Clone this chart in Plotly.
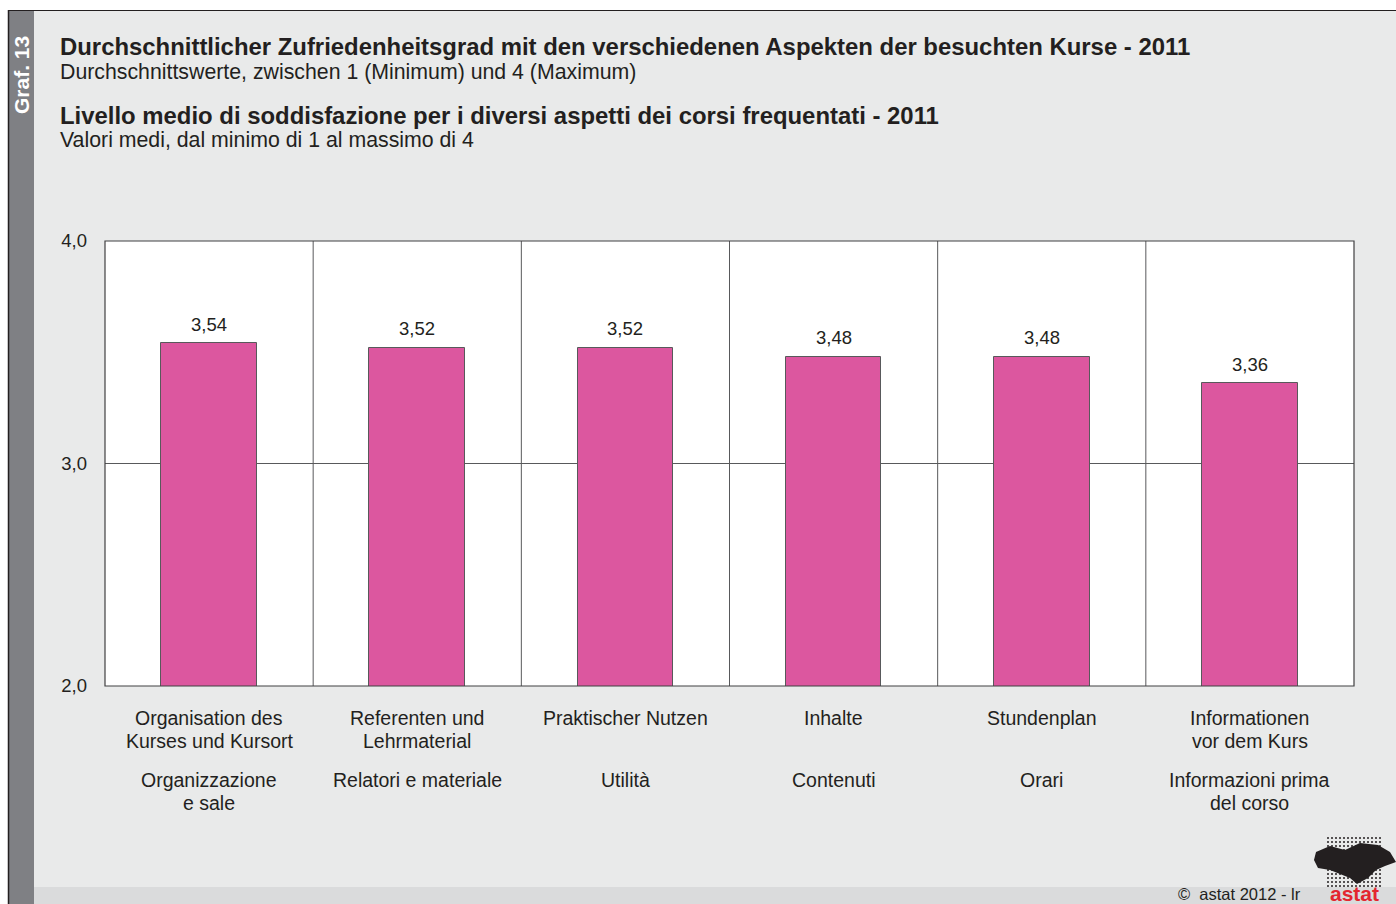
import plotly.graph_objects as go

categories_de = ["Organisation des<br>Kurses und Kursort", "Referenten und<br>Lehrmaterial",
                 "Praktischer Nutzen", "Inhalte", "Stundenplan", "Informationen<br>vor dem Kurs"]
categories_it = ["Organizzazione<br>e sale", "Relatori e materiale", "Utilità", "Contenuti",
                 "Orari", "Informazioni prima<br>del corso"]
values = [3.54, 3.52, 3.52, 3.48, 3.48, 3.36]
value_labels = ["3,54", "3,52", "3,52", "3,48", "3,48", "3,36"]
y_ticks = [2, 3, 4]
y_tick_labels = ["2,0", "3,0", "4,0"]

W, H = 1396, 904
L, R, T, B = 105, 1354, 241, 686
FONT = "Liberation Sans, Arial, Helvetica, sans-serif"
INK = "#231f20"

def px(x):
    return (x - L) / (R - L)

def py(y):
    return (B - y) / (B - T)

xs = list(range(len(values)))

fig = go.Figure()
fig.add_trace(go.Bar(
    x=xs, y=values, width=0.46,
    marker=dict(color="#dc579f", line=dict(color="#58595b", width=1)),
    hoverinfo="skip",
))

shapes = []
shapes.append(dict(type="rect", xref="paper", yref="paper", x0=px(8), x1=px(W + 5), y0=py(H + 5), y1=py(10),
                   fillcolor="#e9eaea", line=dict(width=0), layer="below"))
shapes.append(dict(type="rect", xref="paper", yref="paper", x0=px(34), x1=px(W + 5), y0=py(H + 5), y1=py(887),
                   fillcolor="#dadbdc", line=dict(width=0), layer="below"))
shapes.append(dict(type="rect", xref="paper", yref="paper", x0=px(9), x1=px(34), y0=py(H + 5), y1=py(10),
                   fillcolor="#7f8084", line=dict(width=0), layer="below"))
shapes.append(dict(type="line", xref="paper", yref="paper", x0=px(8.5), x1=px(8.5), y0=py(H + 5), y1=py(10),
                   line=dict(color=INK, width=1.5), layer="below"))
shapes.append(dict(type="line", xref="paper", yref="paper", x0=px(8), x1=px(W + 5), y0=py(10.5), y1=py(10.5),
                   line=dict(color=INK, width=1.2), layer="below"))
shapes.append(dict(type="rect", xref="paper", yref="paper", x0=0, x1=1, y0=0, y1=1,
                   fillcolor="white", line=dict(width=0), layer="below"))
for i in range(len(values) - 1):
    shapes.append(dict(type="line", xref="x", yref="paper", x0=i + 0.5, x1=i + 0.5, y0=0, y1=1,
                       line=dict(color="#58595b", width=1), layer="below"))
shapes.append(dict(type="rect", xref="paper", yref="paper", x0=0, x1=1, y0=0, y1=1,
                   line=dict(color="#414042", width=1.2), layer="above"))

# decorative logo: dotted square with dark region silhouette
for gx in range(1328, 1382, 4):
    for gy in range(838, 888, 4):
        shapes.append(dict(type="circle", xref="paper", yref="paper",
                           x0=px(gx - 1), x1=px(gx + 1), y0=py(gy + 1), y1=py(gy - 1),
                           fillcolor=INK, line=dict(width=0), layer="above"))
blob = [(1316, 852), (1330, 846), (1345, 850), (1360, 843), (1378, 845), (1390, 852), (1396, 862),
        (1385, 866), (1376, 870), (1368, 878), (1357, 884), (1350, 878), (1340, 874), (1330, 870),
        (1318, 868), (1314, 860)]
path = "M " + " L ".join(f"{px(a):.5f},{py(b):.5f}" for a, b in blob) + " Z"
shapes.append(dict(type="path", xref="paper", yref="paper", path=path, fillcolor=INK,
                   line=dict(width=0), layer="above"))

annotations = []
for i in xs:
    annotations.append(dict(x=i, xref="x", y=values[i], yref="y", text=value_labels[i], showarrow=False,
                            yanchor="middle", xanchor="center", yshift=19,
                            font=dict(size=18.5, color=INK, family=FONT)))
    for k, line in enumerate(categories_de[i].split("<br>")):
        annotations.append(dict(x=i, xref="x", y=py(718 + 23 * k), yref="paper", text=line,
                                showarrow=False, yanchor="middle", xanchor="center",
                                font=dict(size=19.5, color=INK, family=FONT)))
    for k, line in enumerate(categories_it[i].split("<br>")):
        annotations.append(dict(x=i, xref="x", y=py(780 + 22.5 * k), yref="paper", text=line,
                                showarrow=False, yanchor="middle", xanchor="center",
                                font=dict(size=19.5, color=INK, family=FONT)))

annotations += [
    dict(x=px(58), y=py(46), xref="paper", yref="paper", xanchor="left", yanchor="middle", showarrow=False,
         text="<b>Durchschnittlicher Zufriedenheitsgrad mit den verschiedenen Aspekten der besuchten Kurse - 2011</b>",
         font=dict(size=23.9, color=INK, family=FONT)),
    dict(x=px(58), y=py(72), xref="paper", yref="paper", xanchor="left", yanchor="middle", showarrow=False,
         text="Durchschnittswerte, zwischen 1 (Minimum) und 4 (Maximum)",
         font=dict(size=21.3, color=INK, family=FONT)),
    dict(x=px(58), y=py(115), xref="paper", yref="paper", xanchor="left", yanchor="middle", showarrow=False,
         text="<b>Livello medio di soddisfazione per i diversi aspetti dei corsi frequentati - 2011</b>",
         font=dict(size=23.9, color=INK, family=FONT)),
    dict(x=px(58), y=py(140), xref="paper", yref="paper", xanchor="left", yanchor="middle", showarrow=False,
         text="Valori medi, dal minimo di 1 al massimo di 4",
         font=dict(size=21.3, color=INK, family=FONT)),
    dict(x=px(21), y=py(75), xref="paper", yref="paper", xanchor="center", yanchor="middle", showarrow=False,
         text="<b>Graf. 13</b>", textangle=-90,
         font=dict(size=21, color="white", family=FONT)),
    dict(x=px(1303), y=py(894), xref="paper", yref="paper", xanchor="right", yanchor="middle", showarrow=False,
         text="©  astat 2012 - lr", font=dict(size=16.5, color=INK, family=FONT)),
    dict(x=px(1354), y=py(893), xref="paper", yref="paper", xanchor="center", yanchor="middle", showarrow=False,
         text="<b>astat</b>", font=dict(size=21, color="#e3262f", family=FONT)),
]

fig.update_layout(
    width=W, height=H,
    margin=dict(l=L, r=W - R, t=T, b=H - B, pad=0),
    paper_bgcolor="white", plot_bgcolor="rgba(0,0,0,0)",
    showlegend=False, bargap=0,
    font=dict(family=FONT, color=INK),
    xaxis=dict(range=[-0.5, len(values) - 0.5], showticklabels=False, showgrid=False, zeroline=False,
               showline=False, fixedrange=True),
    yaxis=dict(range=[2, 4], tickvals=y_ticks, ticktext=y_tick_labels, showgrid=True,
               gridcolor="#58595b", gridwidth=1, zeroline=False, showline=False,
               tickfont=dict(size=18.5, color=INK, family=FONT), ticks="", ticklabelstandoff=17,
               fixedrange=True),
    shapes=shapes, annotations=annotations,
)

fig.write_html("out.html", config={"displayModeBar": False},
               post_script="document.body.style.margin='0px';document.body.style.overflow='hidden';")
